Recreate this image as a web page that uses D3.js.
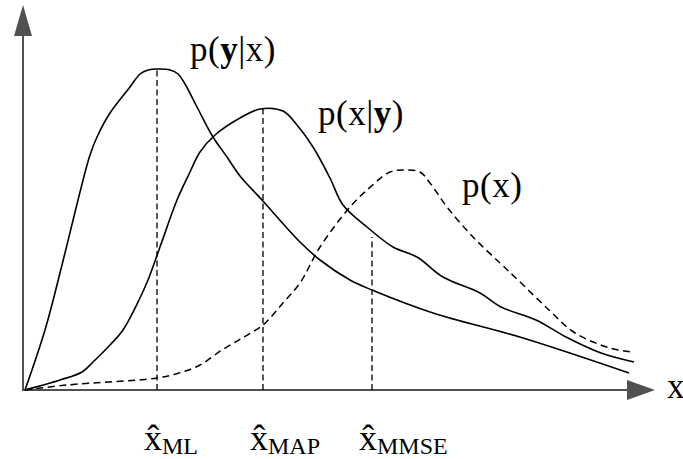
<!DOCTYPE html>
<html>
<head>
<meta charset="utf-8">
<script src="https://cdn.jsdelivr.net/npm/d3@7"></script>
<style>
  html, body { margin: 0; padding: 0; background: #fff; }
  svg { display: block; }
  text { font-family: "Liberation Serif", "Times New Roman", serif; fill: #000; }
</style>
</head>
<body>
<svg id="chart" width="683" height="459"></svg>
<script>
// Likelihood p(y|x): sharp rise, flat top, long tail
const likelihoodX = [0.02, 0.22, 0.39, 0.55, 0.67, 0.74, 0.87, 1.07, 1.17, 1.25, 1.34, 1.47, 1.55, 1.62, 1.74, 1.90, 2.04, 2.17, 2.39, 2.77, 2.97, 3.27, 3.49, 4.10, 5.00, 6.06];
const likelihoodY = [0, 0.060, 0.125, 0.190, 0.235, 0.253, 0.277, 0.303, 0.316, 0.320, 0.321, 0.320, 0.316, 0.306, 0.283, 0.253, 0.233, 0.214, 0.190, 0.148, 0.130, 0.110, 0.100, 0.077, 0.052, 0.017];

// Posterior p(x|y)
const posteriorX = [0.02, 0.37, 0.59, 0.70, 0.87, 1.00, 1.16, 1.25, 1.37, 1.54, 1.67, 1.77, 1.92, 2.17, 2.37, 2.60, 2.74, 2.90, 3.07, 3.20, 3.44, 3.70, 3.94, 4.20, 4.57, 4.78, 5.13, 5.43, 5.78, 6.11];
const posteriorY = [0, 0.010, 0.018, 0.028, 0.045, 0.060, 0.090, 0.110, 0.143, 0.190, 0.218, 0.238, 0.255, 0.272, 0.281, 0.279, 0.265, 0.243, 0.212, 0.185, 0.163, 0.143, 0.133, 0.113, 0.097, 0.083, 0.070, 0.053, 0.037, 0.028];

// Prior p(x)
const priorX = [0.02, 0.44, 1.34, 1.56, 1.77, 1.99, 2.21, 2.40, 2.60, 2.77, 2.97, 3.27, 3.44, 3.67, 3.82, 3.97, 4.07, 4.24, 4.50, 4.77, 4.95, 5.26, 5.52, 5.87, 6.09];
const priorY = [0, 0.005, 0.012, 0.017, 0.025, 0.040, 0.053, 0.065, 0.087, 0.107, 0.143, 0.183, 0.200, 0.218, 0.220, 0.218, 0.207, 0.183, 0.153, 0.127, 0.110, 0.080, 0.057, 0.042, 0.038];

// Estimators: position on x and height of their marker line
const estimatorNames = ["ML", "MAP", "MMSE"];
const estimatorX = [1.34, 2.40, 3.49];
const estimatorTop = [0.320, 0.282, 0.153];

// Curve labels
const curveLabelX = [1.67, 2.95, 4.39];
const curveLabelY = [0.329, 0.265, 0.193];

// Axis extents
const xAxisMax = 6.32;
const yAxisMax = 0.385;

const svg = d3.select("#chart");
const x = d3.scaleLinear().domain([0, 6.4]).range([23, 663]);
const y = d3.scaleLinear().domain([0, 0.4]).range([390, -10]);

const axisColor = "#505050";

// Axes with filled arrowheads
const ax = svg.append("g");
ax.append("line")
  .attr("x1", x(0)).attr("y1", y(0))
  .attr("x2", x(xAxisMax) - 20).attr("y2", y(0))
  .attr("stroke", axisColor).attr("stroke-width", 2);
ax.append("line")
  .attr("x1", x(0)).attr("y1", y(0) + 1)
  .attr("x2", x(0)).attr("y2", y(yAxisMax) + 20)
  .attr("stroke", axisColor).attr("stroke-width", 2);
ax.append("path")
  .attr("d", `M${x(xAxisMax)},${y(0)} L${x(xAxisMax) - 28},${y(0) - 10} L${x(xAxisMax) - 28},${y(0) + 10} Z`)
  .attr("fill", axisColor);
ax.append("path")
  .attr("d", `M${x(0)},${y(yAxisMax)} L${x(0) - 9},${y(yAxisMax) + 31} L${x(0) + 9},${y(yAxisMax) + 31} Z`)
  .attr("fill", axisColor);

// Estimator marker lines
svg.append("g").selectAll("line")
  .data(estimatorX)
  .join("line")
  .attr("x1", d => x(d)).attr("x2", d => x(d))
  .attr("y1", y(0)).attr("y2", (d, i) => y(estimatorTop[i]))
  .attr("stroke", "#111").attr("stroke-width", 1.4)
  .attr("stroke-dasharray", "6,3.5");

// Density curves
const line = d3.line()
  .x(d => x(d[0])).y(d => y(d[1]))
  .curve(d3.curveCatmullRom.alpha(0.5));

const zip = (a, b) => a.map((v, i) => [v, b[i]]);

svg.append("path")
  .attr("d", line(zip(likelihoodX, likelihoodY)))
  .attr("fill", "none").attr("stroke", "#000").attr("stroke-width", 1.6);
svg.append("path")
  .attr("d", line(zip(posteriorX, posteriorY)))
  .attr("fill", "none").attr("stroke", "#000").attr("stroke-width", 1.6);
svg.append("path")
  .attr("d", line(zip(priorX, priorY)))
  .attr("fill", "none").attr("stroke", "#000").attr("stroke-width", 1.5)
  .attr("stroke-dasharray", "7,4.5");

// Curve labels
const labels = svg.append("g").attr("font-size", 35).attr("letter-spacing", 0.5);
const t0 = labels.append("text").attr("x", x(curveLabelX[0])).attr("y", y(curveLabelY[0]));
t0.append("tspan").text("p(");
t0.append("tspan").attr("font-weight", "bold").text("y");
t0.append("tspan").text("|x)");

const t1 = labels.append("text").attr("x", x(curveLabelX[1])).attr("y", y(curveLabelY[1]));
t1.append("tspan").text("p(x|");
t1.append("tspan").attr("font-weight", "bold").text("y");
t1.append("tspan").text(")");

labels.append("text").attr("x", x(curveLabelX[2])).attr("y", y(curveLabelY[2])).text("p(x)");

// Axis name
svg.append("text")
  .attr("x", x(xAxisMax) + 12).attr("y", y(0) + 8)
  .attr("font-size", 35).text("x");

// Estimator labels: x-hat with subscript
const lab = svg.append("g").selectAll("text")
  .data(estimatorX)
  .join("text")
  .attr("x", d => x(d) - 13).attr("y", 450)
  .attr("font-size", 36);
lab.append("tspan").text("x\u0302");
lab.append("tspan").attr("font-size", 24).attr("dy", 4).text((d, i) => estimatorNames[i]);
</script>
</body>
</html>
